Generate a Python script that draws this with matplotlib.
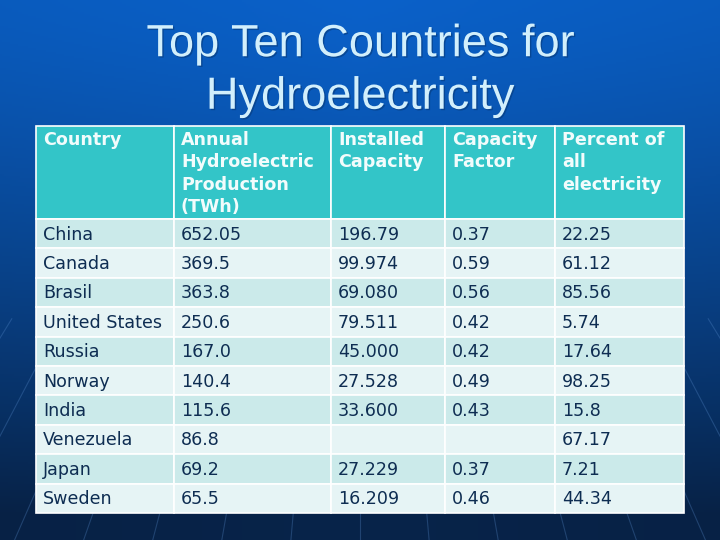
import numpy as np
import matplotlib
matplotlib.use('Agg')
import matplotlib.pyplot as plt
from matplotlib.patches import Rectangle
import matplotlib.patheffects as pe

# table contents
TITLE = 'Top Ten Countries for\nHydroelectricity'
HEADERS = ['Country', 'Annual\nHydroelectric\nProduction\n(TWh)', 'Installed\nCapacity',
           'Capacity\nFactor', 'Percent of\nall\nelectricity']
countries = ['China', 'Canada', 'Brasil', 'United States', 'Russia',
             'Norway', 'India', 'Venezuela', 'Japan', 'Sweden']
production = ['652.05', '369.5', '363.8', '250.6', '167.0',
              '140.4', '115.6', '86.8', '69.2', '65.5']
capacity = ['196.79', '99.974', '69.080', '79.511', '45.000',
            '27.528', '33.600', '', '27.229', '16.209']
cap_factor = ['0.37', '0.59', '0.56', '0.42', '0.42',
              '0.49', '0.43', '', '0.37', '0.46']
percent = ['22.25', '61.12', '85.56', '5.74', '17.64',
           '98.25', '15.8', '67.17', '7.21', '44.34']

W, H = 720, 540
fig = plt.figure(figsize=(7.2, 5.4), dpi=100)
ax = fig.add_axes([0, 0, 1, 1])
ax.set_xlim(0, W)
ax.set_ylim(H, 0)
ax.axis('off')

# background: blue gradient, darker towards the bottom
yy, xx = np.mgrid[0:1:270j, 0:1:360j]
top = np.array([0.04, 0.38, 0.79])
bot = np.array([0.03, 0.14, 0.29])
t = np.clip(yy * 1.05, 0, 1) ** 1.3
side = 1 - 0.12 * np.abs(xx - 0.5)
img = (top * (1 - t)[..., None] + bot * t[..., None]) * side[..., None]
ax.imshow(img, extent=(0, W, H, 0), aspect='auto', zorder=0)

# faint perspective lines at the bottom
vx, vy = 360, -250
for bx in np.linspace(-400, 1120, 23):
    ax.plot([vx + (bx - vx) * 0.72, bx], [vy + (H - vy) * 0.72, H],
            color='#5a8fd0', lw=0.8, alpha=0.3, zorder=1)

# title
ax.text(360, 71, TITLE, ha='center', va='center', fontsize=32.5,
        family='Liberation Sans', color='#d2effc', linespacing=1.36,
        path_effects=[pe.withSimplePatchShadow(offset=(1, -1), shadow_rgbFace='#063a7a', alpha=0.6)],
        zorder=5)

# table
col_edges = [36, 174, 331, 445, 555, 684]
head_top, head_bot = 126, 219
row_h = (513 - head_bot) / len(countries)
line_c = 'white'
txt_c = '#0e2d52'

for j in range(5):
    x0, x1 = col_edges[j], col_edges[j + 1]
    ax.add_patch(Rectangle((x0, head_top), x1 - x0, head_bot - head_top,
                           facecolor='#33c5c8', edgecolor=line_c, lw=1.2, zorder=3))
    ax.text(x0 + 7, head_top + 5, HEADERS[j], ha='left', va='top', fontsize=12.6,
            fontweight='bold', family='DejaVu Sans', color='#f2fcfc', linespacing=1.31, zorder=4)

columns = [countries, production, capacity, cap_factor, percent]
for i in range(len(countries)):
    y0 = head_bot + i * row_h
    fc = '#cbeaea' if i % 2 == 0 else '#e6f4f5'
    for j in range(5):
        x0, x1 = col_edges[j], col_edges[j + 1]
        ax.add_patch(Rectangle((x0, y0), x1 - x0, row_h, facecolor=fc,
                               edgecolor=line_c, lw=1.2, zorder=3))
        ax.text(x0 + 7, y0 + row_h / 2 + 1, columns[j][i], ha='left', va='center',
                fontsize=12.6, family='DejaVu Sans', color=txt_c, zorder=4)

fig.savefig('out.png', dpi=100)
